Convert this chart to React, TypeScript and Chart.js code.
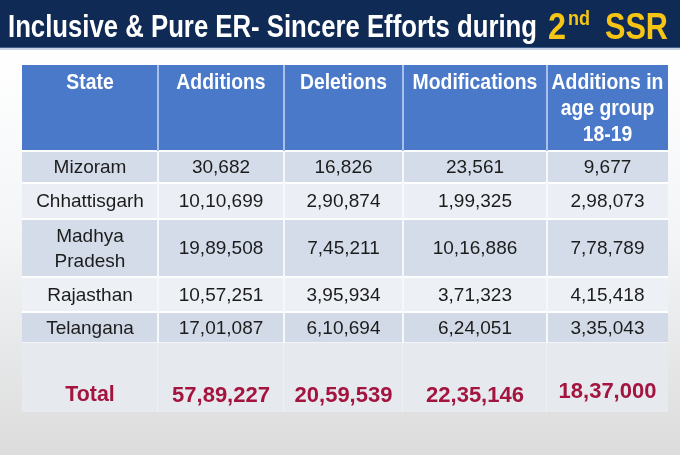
import React, { useEffect, useRef } from 'react';
import { Chart, registerables } from 'chart.js';
Chart.register(...registerables);

// ---- content ----
const titleText = 'Inclusive & Pure ER- Sincere Efforts during';
const titleOrdinal = '2';
const titleOrdinalSuffix = 'nd';
const titleTail = 'SSR';

const headers = ['State', 'Additions', 'Deletions', 'Modifications', 'Additions in\nage group\n18-19'];
const states = ['Mizoram', 'Chhattisgarh', 'Madhya\nPradesh', 'Rajasthan', 'Telangana'];
const additions = [30682, 1010699, 1989508, 1057251, 1701087];
const deletions = [16826, 290874, 745211, 395934, 610694];
const modifications = [23561, 199325, 1016886, 371323, 624051];
const additionsAge1819 = [9677, 298073, 778789, 415418, 335043];
const totalLabel = 'Total';
const totals = [5789227, 2059539, 2235146, 1837000];

// ---- layout (relative sizes) ----
const COL_W = [136, 126, 119, 144, 121];
// header, 5 state rows, blank spacer, total
const ROW_H = [86, 32, 36, 58, 35, 31, 28, 41];

const BODY_FONT = '"Liberation Sans", Arial, sans-serif';

function fmtIN(n: number): string {
  const s = String(n);
  if (s.length <= 3) return s;
  const last3 = s.slice(-3);
  let rest = s.slice(0, -3);
  const parts: string[] = [];
  while (rest.length > 2) {
    parts.unshift(rest.slice(-2));
    rest = rest.slice(0, -2);
  }
  if (rest) parts.unshift(rest);
  return parts.join(',') + ',' + last3;
}

function cum(a: number[]) {
  const out = [0];
  a.forEach((v) => out.push(out[out.length - 1] + v));
  return out;
}

function drawScaled(ctx: CanvasRenderingContext2D, text: string, x: number, y: number, sx: number, align: CanvasTextAlign) {
  ctx.save();
  ctx.translate(x, y);
  ctx.scale(sx, 1);
  ctx.textAlign = align;
  ctx.fillText(text, 0, 0);
  ctx.restore();
}

function drawFit(ctx: CanvasRenderingContext2D, text: string, x: number, y: number, targetW: number) {
  const w = ctx.measureText(text).width;
  drawScaled(ctx, text, x, y, targetW / w, 'left');
}

const tablePlugin = {
  id: 'tableDraw',
  beforeDraw(chart: any) {
    const { ctx, width, height } = chart;
    ctx.save();
    const g = ctx.createLinearGradient(0, 50, 0, height);
    g.addColorStop(0, '#ffffff');
    g.addColorStop(0.45, '#f3f5f7');
    g.addColorStop(1, '#dcdcdc');
    ctx.fillStyle = g;
    ctx.fillRect(0, 0, width, height);
    // title bar
    ctx.fillStyle = '#0f2b55';
    ctx.fillRect(0, 0, width, 48);
    ctx.fillStyle = '#3f5f8c';
    ctx.fillRect(0, 47, width, 1);
    ctx.fillStyle = '#c9d4e4';
    ctx.fillRect(0, 48, width, 2);
    ctx.textBaseline = 'alphabetic';
    ctx.fillStyle = '#ffffff';
    ctx.font = 'bold 31px ' + BODY_FONT;
    drawFit(ctx, titleText, 8, 37, 529);
    ctx.fillStyle = '#f7c614';
    ctx.font = 'bold 36px ' + BODY_FONT;
    drawFit(ctx, titleOrdinal, 548, 39, 18);
    ctx.font = 'bold 20px ' + BODY_FONT;
    drawFit(ctx, titleOrdinalSuffix, 568, 25, 22);
    ctx.font = 'bold 36px ' + BODY_FONT;
    drawFit(ctx, titleTail, 605, 39, 63);
    ctx.restore();
  },
  afterDatasetsDraw(chart: any) {
    const { ctx } = chart;
    const xs = chart.scales.x;
    const ys = chart.scales.y;
    const colE = cum(COL_W).map((v) => xs.getPixelForValue(v));
    const rowE = cum(ROW_H).map((v) => ys.getPixelForValue(v));
    const left = colE[0];
    const right = colE[colE.length - 1];
    const nRows = ROW_H.length;

    ctx.save();
    // row backgrounds
    const rowColors = ['#4a79c9', '#d4dcea', '#ebeff5', '#d4dcea', '#edf1f6', '#d2dae7', '#e6e9ee', '#e6e9ee'];
    for (let r = 0; r < nRows; r++) {
      ctx.fillStyle = rowColors[r];
      ctx.fillRect(left, rowE[r], right - left, rowE[r + 1] - rowE[r]);
    }
    // horizontal separators
    ctx.fillStyle = '#ffffff';
    for (let r = 1; r <= 5; r++) {
      ctx.fillRect(left, rowE[r] - 1, right - left, 2);
    }
    ctx.fillStyle = '#f3f5f8';
    ctx.fillRect(left, rowE[6] - 1, right - left, 1);
    // vertical separators
    for (let c = 1; c < colE.length - 1; c++) {
      ctx.fillStyle = '#a9c0ea';
      ctx.fillRect(colE[c] - 1, rowE[0], 2, rowE[1] - rowE[0]);
      ctx.fillStyle = '#f6f8fb';
      ctx.fillRect(colE[c] - 1, rowE[1], 2, rowE[6] - rowE[1]);
      ctx.fillStyle = '#eef0f3';
      ctx.fillRect(colE[c] - 1, rowE[6], 1, rowE[8] - rowE[6]);
    }

    const cx = (c: number) => (colE[c] + colE[c + 1]) / 2;
    const cy = (r: number) => (rowE[r] + rowE[r + 1]) / 2;

    // header text
    ctx.fillStyle = '#ffffff';
    ctx.font = 'bold 22px ' + BODY_FONT;
    ctx.textBaseline = 'alphabetic';
    headers.forEach((h, c) => {
      h.split('\n').forEach((line, i) => {
        drawScaled(ctx, line, cx(c), rowE[0] + 24 + i * 26, 0.88, 'center');
      });
    });

    // body
    ctx.fillStyle = '#1c1c1c';
    ctx.font = '19px ' + BODY_FONT;
    ctx.textBaseline = 'middle';
    const cols = [additions, deletions, modifications, additionsAge1819];
    states.forEach((s, i) => {
      const r = i + 1;
      const lines = s.split('\n');
      const lh = 25;
      lines.forEach((line, k) => {
        const y = cy(r) + 1 + (k - (lines.length - 1) / 2) * lh;
        drawScaled(ctx, line, cx(0), y, 1, 'center');
      });
      cols.forEach((arr, c) => {
        drawScaled(ctx, fmtIN(arr[i]), cx(c + 1), cy(r) + 1, 1, 'center');
      });
    });

    // totals
    ctx.fillStyle = '#a3143f';
    ctx.font = 'bold 22px ' + BODY_FONT;
    const tr = nRows - 1;
    drawScaled(ctx, totalLabel, cx(0), cy(tr) + 3, 0.97, 'center');
    totals.forEach((v, c) => {
      const yOff = c === 3 ? 0 : 4;
      drawScaled(ctx, fmtIN(v), cx(c + 1), cy(tr) + yOff, 1, 'center');
    });
    ctx.restore();
  },
};

export default function App() {
  const ref = useRef<HTMLCanvasElement | null>(null);
  useEffect(() => {
    if (!ref.current) return;
    const totalW = COL_W.reduce((a, b) => a + b, 0);
    const totalH = ROW_H.reduce((a, b) => a + b, 0);
    const chart = new Chart(ref.current, {
      type: 'scatter',
      data: {
        datasets: [
          {
            data: [],
            pointRadius: 0,
          },
        ],
      },
      options: {
        animation: false,
        responsive: false,
        maintainAspectRatio: false,
        layout: { padding: { left: 22, right: 12, top: 65, bottom: 43 } },
        plugins: { legend: { display: false }, tooltip: { enabled: false }, title: { display: false } },
        scales: {
          x: { type: 'linear', min: 0, max: totalW, display: false },
          y: { type: 'linear', min: 0, max: totalH, reverse: true, display: false },
        },
      },
      plugins: [tablePlugin],
    });
    return () => chart.destroy();
  }, []);
  return (
    <div style={{ position: 'absolute', left: 0, top: 0, width: 680, height: 455 }}>
      <canvas ref={ref} width={680} height={455} style={{ display: 'block' }} />
    </div>
  );
}
